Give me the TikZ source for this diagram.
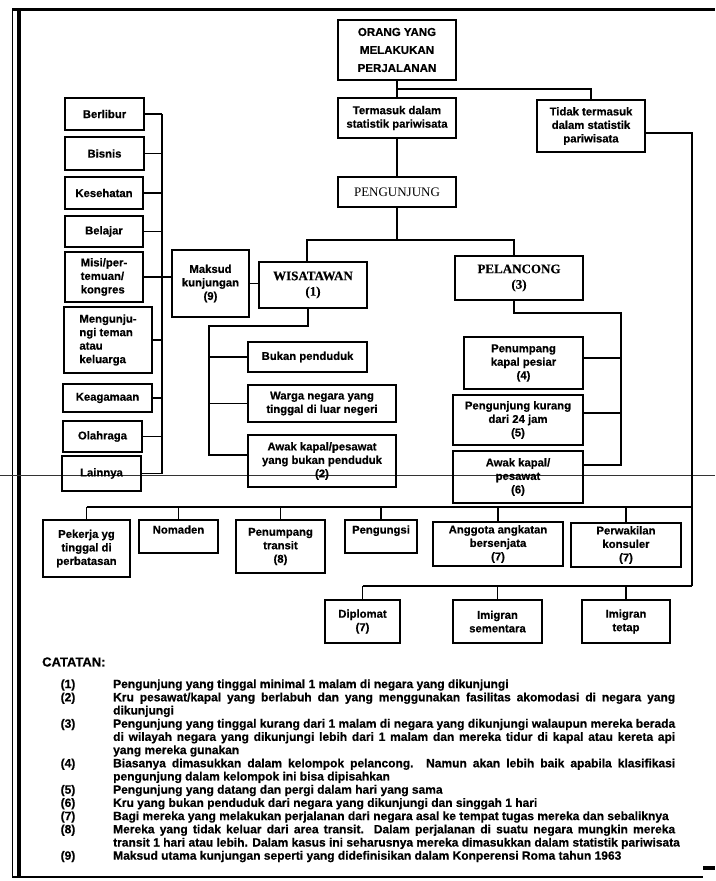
\documentclass[tikz,border=0pt]{standalone}
\usepackage{fontspec}
\setmainfont{Liberation Sans}[BoldFeatures={FakeBold=0.6}]
\newfontfamily\myserif{Liberation Serif}[BoldFeatures={FakeBold=0.4}]
\newcommand\notejust[1]{\makebox[562pt][s]{#1}}
\begin{document}
\begin{tikzpicture}[x=1pt,y=-1pt,
  bx/.style={draw, line width=1.4pt, inner sep=1pt, align=center,
    font=\bfseries\fontsize{11.3}{13.5}\selectfont},
  ln/.style={line width=1.2pt},
  nt/.style={anchor=west, inner sep=0pt, font=\bfseries\fontsize{12}{13}\selectfont},
  nn/.style={anchor=center, inner sep=0pt, font=\bfseries\fontsize{12}{13}\selectfont},
  big/.style={font=\myserif\bfseries\fontsize{13}{15.5}\selectfont},
]
\useasboundingbox (0,0) rectangle (715,881);
% frame
\draw[line width=3pt] (12,9) -- (715,9);
\draw[line width=1pt] (12,8) -- (12,877);
\draw[line width=4pt] (19,8) -- (19,877);
\draw[line width=2pt] (12,877) -- (703,877);
\draw[line width=4pt] (703,868) -- (715,868);
\draw[line width=0.6pt, black!80] (0,475) -- (715,475);

% top
\node[bx, minimum width=118pt, minimum height=60pt, font=\bfseries\fontsize{11.5}{18}\selectfont] (orang) at (397,50) {ORANG YANG\\MELAKUKAN\\PERJALANAN};
\node[bx, minimum width=118pt, minimum height=40pt] (termasuk) at (397,118) {Termasuk dalam\\statistik pariwisata};
\node[bx, minimum width=108pt, minimum height=52pt] (tidak) at (591,126) {Tidak termasuk\\dalam statistik\\pariwisata};
\node[bx, minimum width=118pt, minimum height=30pt, font=\myserif\fontsize{13}{15}\selectfont] (pengunjung) at (397,192) {PENGUNJUNG};
\coordinate (j0) at (397,89);
\draw[ln] (orang.south) -- (termasuk.north);
\draw[ln] (j0) -| (tidak.north);
\draw[ln] (termasuk.south) -- (pengunjung.north);

% left column
\node[bx, minimum width=79pt, minimum height=32pt] (berlibur) at (104.5,114) {Berlibur};
\node[bx, minimum width=79pt, minimum height=33pt] (bisnis) at (104.5,153.5) {Bisnis};
\node[bx, minimum width=78pt, minimum height=32pt] (kesehatan) at (104,193) {Kesehatan};
\node[bx, minimum width=78pt, minimum height=31pt] (belajar) at (104,231.5) {Belajar};
\node[bx, minimum width=78pt, minimum height=50pt, align=left] (misi) at (104,277) {Misi/per-\\temuan/\\kongres};
\node[bx, minimum width=88pt, minimum height=66pt, align=left] (mengunjungi) at (108,340) {Mengunju-\\ngi teman\\atau\\keluarga};
\node[bx, minimum width=89pt, minimum height=28pt] (keagamaan) at (107.5,398) {Keagamaan};
\node[bx, minimum width=79pt, minimum height=31pt] (olahraga) at (102.5,436.5) {Olahraga};
\node[bx, minimum width=79pt, minimum height=35pt] (lainnya) at (101.5,473.5) {Lainnya};
\coordinate (barL) at (162,0);
\draw[ln] (berlibur.east -| barL) -- (lainnya.east -| barL);
\foreach \n in {berlibur,bisnis,kesehatan,belajar,mengunjungi,keagamaan,olahraga,lainnya}
  \draw[ln] (\n.east) -- (\n.east -| barL);

% maksud, wisatawan, pelancong
\node[bx, minimum width=77pt, minimum height=67pt] (maksud) at (210.5,283.5) {Maksud\\kunjungan\\(9)};
\draw[ln] (misi.east) -- (misi.east -| maksud.west);
\node[bx, big, minimum width=108pt, minimum height=46pt] (wis) at (313,285) {WISATAWAN\\(1)};
\draw[ln] (maksud.east) -- (maksud.east -| wis.west);
\node[bx, big, minimum width=128pt, minimum height=44pt] (pel) at (519,278) {PELANCONG\\(3)};
\coordinate (j1) at (397,240);
\draw[ln] (pengunjung.south) -- (pengunjung.south |- j1);
\draw[ln] ([xshift=-6pt]wis.north) |- ([xshift=-5pt]pel.north |- j1) -- ([xshift=-5pt]pel.north);

% wisatawan subtree
\node[bx, minimum width=119pt, minimum height=30pt] (bukan) at (307.5,357) {Bukan penduduk};
\node[bx, minimum width=148pt, minimum height=37pt] (warga) at (322,403.5) {Warga negara yang\\tinggal di luar negeri};
\node[bx, minimum width=148pt, minimum height=52pt] (awak2) at (322,461) {Awak kapal/pesawat\\yang bukan penduduk\\(2)};
\coordinate (wl) at (209,326);
\coordinate (wl2) at (209,455);
\draw[ln] ([xshift=-5pt]wis.south) |- (wl) -- (wl2) -- (wl2 -| awak2.west);
\draw[ln] (bukan.west -| wl) -- (bukan.west);
\draw[ln] (warga.west -| wl) -- (warga.west);

% pelancong subtree
\node[bx, minimum width=119pt, minimum height=52pt] (kapal) at (523.5,363) {Penumpang\\kapal pesiar\\(4)};
\node[bx, minimum width=130pt, minimum height=50pt] (kurang) at (518,420) {Pengunjung kurang\\dari 24 jam\\(5)};
\node[bx, minimum width=130pt, minimum height=52pt] (awak6) at (518,477) {Awak kapal/\\pesawat\\(6)};
\coordinate (pr) at (621,313);
\coordinate (pr2) at (621,465);
\draw[ln] ([xshift=-5pt]pel.south) |- (pr) -- (pr2) -- (pr2 -| awak6.east);
\draw[ln] ([yshift=5pt]kapal.east) -- ([yshift=5pt]kapal.east -| pr);
\draw[ln] ([yshift=7pt]kurang.east) -- ([yshift=7pt]kurang.east -| pr);

% not included
\coordinate (barR) at (692,0);
\coordinate (bb) at (0,507);
\coordinate (db) at (0,586);
\node[bx, minimum width=87pt, minimum height=57pt] (pekerja) at (86.5,548.5) {Pekerja yg\\tinggal di\\perbatasan};
\node[bx, minimum width=79pt, minimum height=33pt, text depth=14pt] (nomaden) at (178.5,536.5) {Nomaden};
\node[bx, minimum width=89pt, minimum height=53pt] (transit) at (280.5,546.5) {Penumpang\\transit\\(8)};
\node[bx, minimum width=72pt, minimum height=33pt, text depth=14pt] (pengungsi) at (381,536.5) {Pengungsi};
\node[bx, minimum width=130pt, minimum height=44pt] (anggota) at (498,544) {Anggota angkatan\\bersenjata\\(7)};
\node[bx, minimum width=110pt, minimum height=44pt] (perwakilan) at (626,545) {Perwakilan\\konsuler\\(7)};
\draw[ln] ([yshift=-7pt]tidak.east) -| (barR |- db);
\draw[ln] (pekerja.north |- bb) -- (barR |- bb);
\foreach \n in {pekerja,nomaden,transit,pengungsi,anggota,perwakilan}
  \draw[ln] (\n.north |- bb) -- (\n.north);
\node[bx, minimum width=75pt, minimum height=43pt] (diplomat) at (362.5,621.5) {Diplomat\\(7)};
\node[bx, minimum width=89pt, minimum height=43pt] (sementara) at (497.5,621.5) {Imigran\\sementara};
\node[bx, minimum width=88pt, minimum height=43pt] (tetap) at (626,621.5) {Imigran\\tetap};
\draw[ln] (diplomat.north |- db) -- (barR |- db);
\foreach \n in {diplomat,sementara,tetap}
  \draw[ln] (\n.north |- db) -- (\n.north);

% notes
\node[anchor=west, inner sep=0pt, font=\bfseries\fontsize{13}{14}\selectfont] (catatan) at (42,662) {CATATAN:};
\node[nn] (n1) at (68,685) {(1)};
\node[nt] (t1) at (113,685) {Pengunjung yang tinggal minimal 1 malam di negara yang dikunjungi};
\node[nn] (n2) at (68,698.2) {(2)};
\node[nt] (t2) at (113,698.2) {\notejust{Kru pesawat/kapal yang berlabuh dan yang menggunakan fasilitas akomodasi di negara yang}};
\node[nt] (t2b) at (113,711.4) {dikunjungi};
\node[nn] (n3) at (68,724.6) {(3)};
\node[nt] (t3) at (113,724.6) {\notejust{Pengunjung yang tinggal kurang dari 1 malam di negara yang dikunjungi walaupun mereka berada}};
\node[nt] (t3b) at (113,737.8) {\notejust{di wilayah negara yang dikunjungi lebih dari 1 malam dan mereka tidur di kapal atau kereta api}};
\node[nt] (t3c) at (113,751) {yang mereka gunakan};
\node[nn] (n4) at (68,764.2) {(4)};
\node[nt] (t4) at (113,764.2) {\notejust{Biasanya dimasukkan dalam kelompok pelancong. Namun akan lebih baik apabila klasifikasi}};
\node[nt] (t4b) at (113,777.4) {pengunjung dalam kelompok ini bisa dipisahkan};
\node[nn] (n5) at (68,790.6) {(5)};
\node[nt] (t5) at (113,790.6) {Pengunjung yang datang dan pergi dalam hari yang sama};
\node[nn] (n6) at (68,803.8) {(6)};
\node[nt] (t6) at (113,803.8) {Kru yang bukan penduduk dari negara yang dikunjungi dan singgah 1 hari};
\node[nn] (n7) at (68,817) {(7)};
\node[nt] (t7) at (113,817) {Bagi mereka yang melakukan perjalanan dari negara asal ke tempat tugas mereka dan sebaliknya};
\node[nn] (n8) at (68,830.2) {(8)};
\node[nt] (t8) at (113,830.2) {\notejust{Mereka yang tidak keluar dari area transit. Dalam perjalanan di suatu negara mungkin mereka}};
\node[nt] (t8b) at (113,843.4) {transit 1 hari atau lebih. Dalam kasus ini seharusnya mereka dimasukkan dalam statistik pariwisata};
\node[nn] (n9) at (68,856.6) {(9)};
\node[nt] (t9) at (113,856.6) {Maksud utama kunjungan seperti yang didefinisikan dalam Konperensi Roma tahun 1963};
\end{tikzpicture}
\end{document}
